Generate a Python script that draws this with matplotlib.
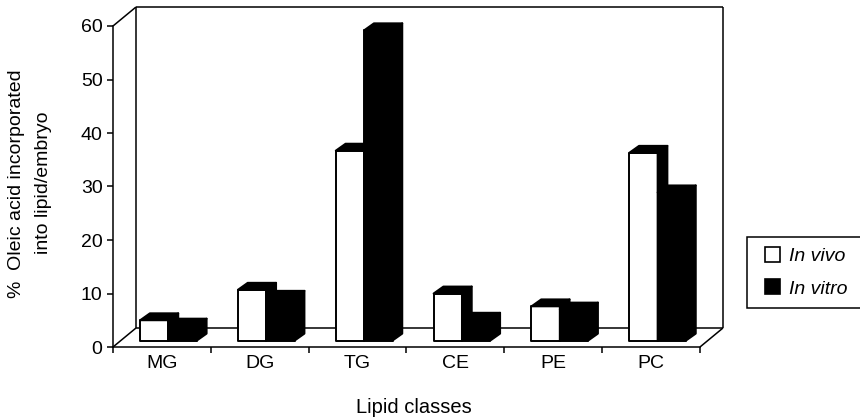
import matplotlib.pyplot as plt
from matplotlib.patches import Polygon, Patch, Rectangle

plt.rcParams['font.family'] = ['Liberation Sans', 'DejaVu Sans']

# Lipid classes and % oleic acid incorporated
classes = ['MG', 'DG', 'TG', 'CE', 'PE', 'PC']
in_vivo = [3.8, 9.5, 35.5, 8.8, 6.4, 35.1]
in_vitro = [2.8, 8.0, 58.0, 3.9, 5.8, 27.7]
yticks = [0, 10, 20, 30, 40, 50, 60]

# 3-D look: wall depth, bar depth, bar width
wall_dx, wall_dy = 0.235, 3.55
bar_dx, bar_dy = 0.1, 1.3
base_dx, base_dy = 0.067, 1.2
w = 0.29
fs = 14

W, H = 860, 419
fig = plt.figure(figsize=(W / 100, H / 100), dpi=100)
px_x = 97.83   # pixels per category
px_y = 5.35    # pixels per percent
xmax, ymax = 6.3, 64.5
ax = fig.add_axes([113 / W, 72 / H, xmax * px_x / W, ymax * px_y / H])
ax.set_xlim(0, xmax)
ax.set_ylim(0, ymax)


def line(xs, ys, z=1):
    ax.plot(xs, ys, color='black', lw=1.1, zorder=z, clip_on=False,
            solid_capstyle='butt')


# back wall and floor
line([0, wall_dx], [0, wall_dy])
line([0, wall_dx], [60, 60 + wall_dy])
line([6, 6 + wall_dx], [0, wall_dy])
line([wall_dx, wall_dx], [wall_dy, 60 + wall_dy])
line([6 + wall_dx, 6 + wall_dx], [wall_dy, 60 + wall_dy])
line([wall_dx, 6 + wall_dx], [60 + wall_dy, 60 + wall_dy])
line([wall_dx, 6 + wall_dx], [wall_dy, wall_dy])


def bar3d(x0, h, front, shade, z):
    y0 = base_dy
    y1 = base_dy + h
    faces = [
        ([(x0, y0), (x0 + w, y0), (x0 + w, y1), (x0, y1)], front),
        ([(x0, y1), (x0 + w, y1), (x0 + w + bar_dx, y1 + bar_dy),
          (x0 + bar_dx, y1 + bar_dy)], shade),
        ([(x0 + w, y0), (x0 + w + bar_dx, y0 + bar_dy),
          (x0 + w + bar_dx, y1 + bar_dy), (x0 + w, y1)], shade),
    ]
    for pts, fc in faces:
        ax.add_patch(Polygon(pts, closed=True, facecolor=fc, edgecolor='black',
                             lw=1.4, joinstyle='round', zorder=z,
                             clip_on=False))


for i in range(len(classes)):
    left = i + 0.5 + base_dx - w
    bar3d(left, in_vivo[i], 'white', 'black', 3)
    bar3d(left + w, in_vitro[i], 'black', 'black', 4)

for side in ['top', 'right']:
    ax.spines[side].set_visible(False)
ax.spines['left'].set_bounds(0, 60)
ax.spines['bottom'].set_bounds(0, 6)
for side in ['left', 'bottom']:
    ax.spines[side].set_linewidth(1.1)
    ax.spines[side].set_zorder(5)

ax.set_yticks(yticks)
ax.set_xticks(range(7))
ax.set_xticklabels([])
ax.set_xticks([i + 0.5 for i in range(6)], minor=True)
ax.set_xticklabels(classes, minor=True)
ax.tick_params(axis='y', length=4.5, width=1.1, labelsize=fs, pad=3)
ax.tick_params(axis='x', which='major', length=4, width=1.1)
ax.tick_params(axis='x', which='minor', length=0, labelsize=fs, pad=6)

fig.text(17 / W, 1 - 184 / H, '%  Oleic acid incorporated', rotation=90,
         ha='center', va='center', fontsize=fs)
fig.text(43 / W, 1 - 183 / H, 'into lipid/embryo', rotation=90,
         ha='center', va='center', fontsize=fs)
fig.text(414 / W, 1 - 407 / H, 'Lipid classes', ha='center', va='center',
         fontsize=fs + 0.5)

# legend box runs off the right edge of the figure
fig.patches.append(Rectangle((747 / W, 1 - 308 / H), 130 / W, 71 / H,
                             transform=fig.transFigure, facecolor='white',
                             edgecolor='black', lw=1.1, zorder=0))
handles = [Patch(facecolor='white', edgecolor='black', lw=1.2),
           Patch(facecolor='black', edgecolor='black', lw=1.2)]
leg = fig.legend(handles, ['In vivo', 'In vitro'], loc='upper left',
                 bbox_to_anchor=(755 / W, 1 - 237 / H), borderaxespad=0,
                 prop={'style': 'italic', 'size': fs}, frameon=False,
                 handlelength=0.8, handleheight=0.8, handletextpad=0.45,
                 borderpad=0.5, labelspacing=0.75)

fig.savefig('out.png', dpi=100)
